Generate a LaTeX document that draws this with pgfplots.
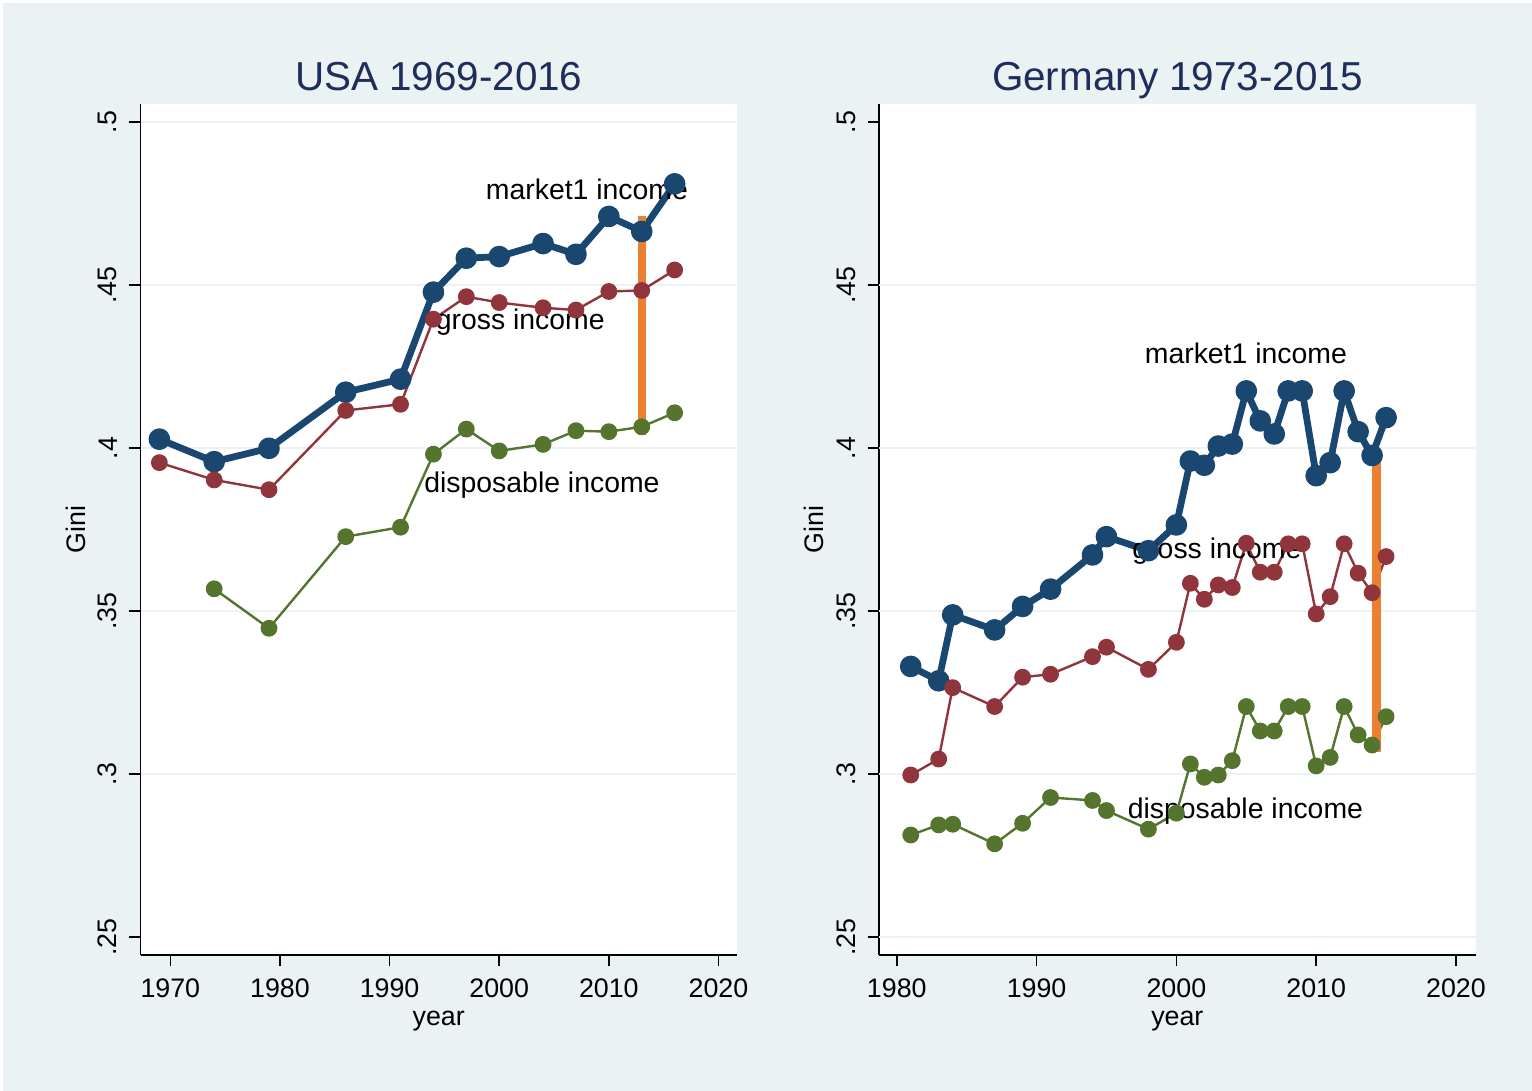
\documentclass[border=0pt]{standalone}
\usepackage{pgfplots}
\pgfplotsset{compat=1.18}
\usepackage{fontspec}
\setmainfont{Liberation Sans}
\definecolor{stnavy}{RGB}{26,71,111}
\definecolor{stmaroon}{RGB}{144,53,59}
\definecolor{stgreen}{RGB}{85,117,47}
\definecolor{storange}{RGB}{236,128,50}
\definecolor{bgray}{RGB}{234,242,243}
\definecolor{titlec}{RGB}{30,45,90}

\pgfplotsset{
 stbase/.style={
  scale only axis, height=425.5pt,
  ymin=0.2445, ymax=0.5055,
  axis x line*=bottom, axis y line*=left,
  axis line style={line width=0.8pt, black},
  tick align=outside, major tick length=5.6pt,
  tick style={line width=0.8pt, black},
  ytick={0.25,0.3,0.35,0.4,0.45,0.5},
  yticklabels={.25,.3,.35,.4,.45,.5},
  yticklabel style={rotate=90, anchor=south, font=\fontsize{13.4}{16}\selectfont},
  yticklabel shift=2.5pt,
  xticklabel style={font=\fontsize{13.4}{16}\selectfont},
  xticklabel shift=3pt,
  /pgf/number format/assume math mode=true,
  axis background/.style={fill=white},
  extra y tick style={grid=major, major tick length=0pt, tick style={draw=none}},
  extra y tick labels={},
  grid style={line width=1pt, bgray},
  clip=false,
 },
 mkt/.style={stnavy, line width=3.4pt, line join=round, mark=*, mark size=3.7pt, mark options={draw=none, fill=stnavy}},
 grs/.style={stmaroon, line width=1.2pt, line join=round, mark=*, mark size=3.6pt, mark options={draw=none, fill=stmaroon}},
 dsp/.style={stgreen, line width=1.2pt, line join=round, mark=*, mark size=3.6pt, mark options={draw=none, fill=stgreen}},
}
\tikzset{
 lbl/.style={anchor=base, font=\fontsize{14.2}{17}\selectfont, black},
 ttl/.style={anchor=base, font=\fontsize{20.2}{24}\selectfont, text=titlec},
 axl/.style={font=\fontsize{13.4}{16}\selectfont, black},
}

\begin{document}
\begin{tikzpicture}
\path[use as bounding box] (0,0) rectangle (766pt,545.5pt);
\fill[white] (0,0) rectangle (766pt,545.5pt);
\fill[bgray] (1.5pt,0) rectangle (766pt,544pt);

% ---------------- USA ----------------
\begin{axis}[stbase, width=298.25pt, at={(70.25pt,68pt)}, anchor=south west,
  xmin=1967.28, xmax=2021.69,
  xtick={1970,1980,1990,2000,2010,2020},
  xticklabels={1970,1980,1990,2000,2010,2020},
  extra y ticks={0.3,0.35,0.4,0.45,0.5}]
\addplot[mkt] coordinates {
 (1969,0.4027) (1974,0.3958) (1979,0.3999) (1986,0.4171) (1991,0.4211)
 (1994,0.4478) (1997,0.4582) (2000,0.4587) (2004,0.4627) (2007,0.4594)
 (2010,0.4710) (2013,0.4664) (2016,0.4810)};
\addplot[grs] coordinates {
 (1969,0.3955) (1974,0.3902) (1979,0.3872) (1986,0.4115) (1991,0.4134)
 (1994,0.4395) (1997,0.4464) (2000,0.4446) (2004,0.4430) (2007,0.4423)
 (2010,0.4480) (2013,0.4483) (2016,0.4546)};
\addplot[dsp] coordinates {
 (1974,0.3568) (1979,0.3447) (1986,0.3728) (1991,0.3757)
 (1994,0.3981) (1997,0.4058) (2000,0.3991) (2004,0.4011) (2007,0.4053)
 (2010,0.4050) (2013,0.4065) (2016,0.4108)};
\addplot[storange, line width=4.2pt] coordinates {(2013,0.4040) (2013,0.4712)};
\node[lbl] at (axis cs:2008.0,0.4762) {market1 income};
\node[lbl] at (axis cs:2001.92,0.4364) {gross income};
\node[lbl] at (axis cs:2003.9,0.3862) {disposable income};
\node[ttl] at ([yshift=6.5pt]axis description cs:0.5,1) {USA 1969-2016};
\node[axl, anchor=base] at ([yshift=-35.5pt]axis description cs:0.5,0) {year};
\node[axl, anchor=base, rotate=90] at ([xshift=-27.75pt]axis description cs:0,0.5) {Gini};
\end{axis}

% ---------------- Germany ----------------
\begin{axis}[stbase, width=298.35pt, at={(439.5pt,68pt)}, anchor=south west,
  xmin=1978.73, xmax=2021.41,
  xtick={1980,1990,2000,2010,2020},
  xticklabels={1980,1990,2000,2010,2020},
  extra y ticks={0.25,0.3,0.35,0.4,0.45}]
\addplot[mkt] coordinates {
 (1981,0.3330) (1983,0.3286) (1984,0.3488) (1987,0.3442) (1989,0.3514)
 (1991,0.3567) (1994,0.3672) (1995,0.3728) (1998,0.3685) (2000,0.3764)
 (2001,0.3960) (2002,0.3947) (2003,0.4006) (2004,0.4012) (2005,0.4175)
 (2006,0.4083) (2007,0.4043) (2008,0.4175) (2009,0.4175) (2010,0.3915)
 (2011,0.3955) (2012,0.4175) (2013,0.4050) (2014,0.3977) (2015,0.4093)};
\addplot[grs] coordinates {
 (1981,0.2997) (1983,0.3046) (1984,0.3265) (1987,0.3207) (1989,0.3297)
 (1991,0.3306) (1994,0.3360) (1995,0.3389) (1998,0.3321) (2000,0.3404)
 (2001,0.3585) (2002,0.3536) (2003,0.3580) (2004,0.3572) (2005,0.3708)
 (2006,0.3619) (2007,0.3619) (2008,0.3706) (2009,0.3706) (2010,0.3491)
 (2011,0.3544) (2012,0.3706) (2013,0.3616) (2014,0.3556) (2015,0.3667)};
\addplot[dsp] coordinates {
 (1981,0.2813) (1983,0.2844) (1984,0.2846) (1987,0.2786) (1989,0.2849)
 (1991,0.2928) (1994,0.2919) (1995,0.2888) (1998,0.2831) (2000,0.2880)
 (2001,0.3031) (2002,0.2990) (2003,0.2997) (2004,0.3041) (2005,0.3207)
 (2006,0.3132) (2007,0.3132) (2008,0.3207) (2009,0.3207) (2010,0.3025)
 (2011,0.3051) (2012,0.3207) (2013,0.3120) (2014,0.3089) (2015,0.3176)};
\addplot[storange, line width=4.2pt] coordinates {(2014.3,0.3068) (2014.3,0.3963)};
\node[lbl] at (axis cs:2004.97,0.4260) {market1 income};
\node[lbl] at (axis cs:2002.9,0.3662) {gross income};
\node[lbl] at (axis cs:2004.94,0.2865) {disposable income};
\node[ttl] at ([yshift=6.5pt]axis description cs:0.5,1) {Germany 1973-2015};
\node[axl, anchor=base] at ([yshift=-35.5pt]axis description cs:0.5,0) {year};
\node[axl, anchor=base, rotate=90] at ([xshift=-27.75pt]axis description cs:0,0.5) {Gini};
\end{axis}
\end{tikzpicture}
\end{document}
